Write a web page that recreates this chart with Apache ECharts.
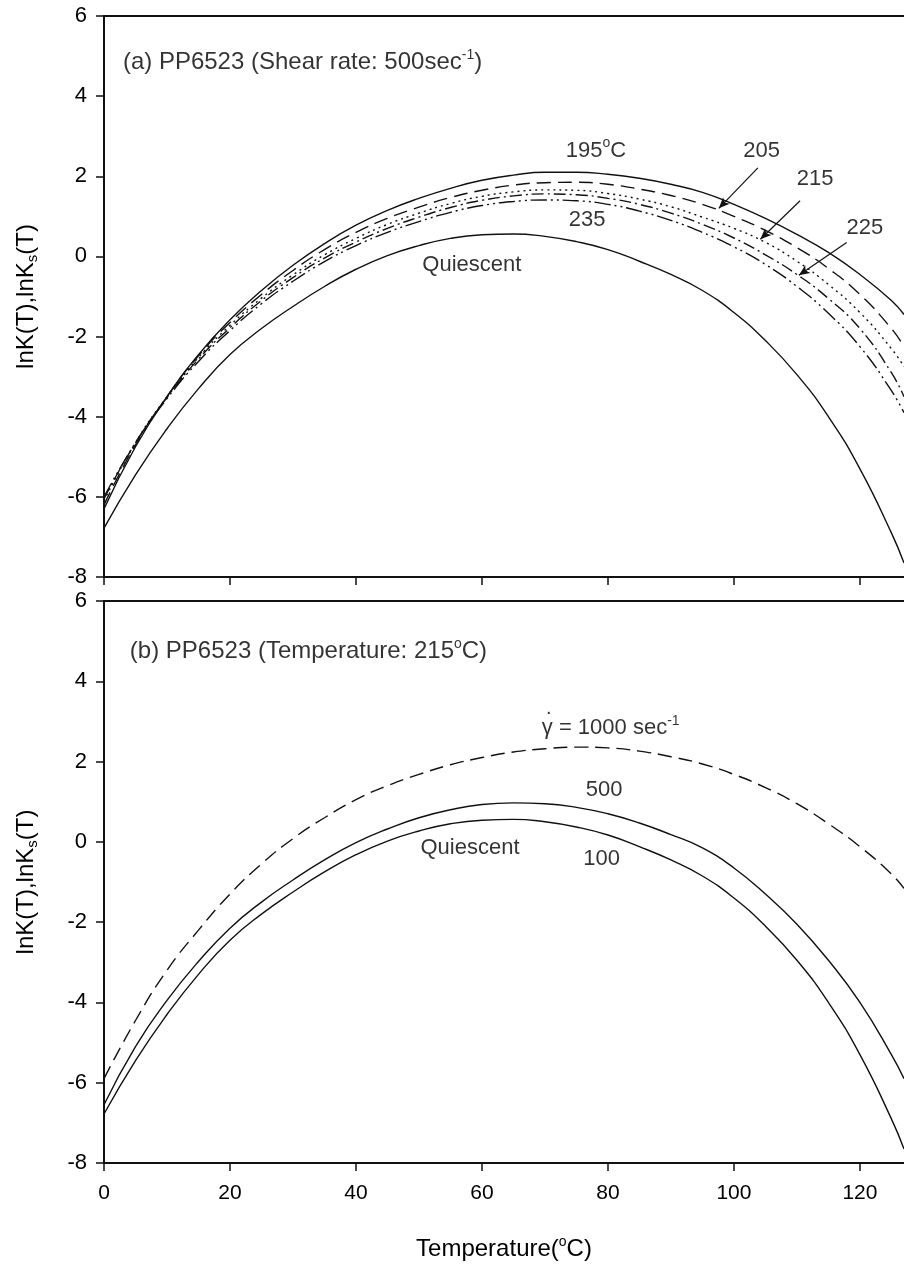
<!DOCTYPE html>
<html><head><meta charset="utf-8">
<script src="https://cdn.jsdelivr.net/npm/echarts@6/dist/echarts.min.js"></script>
<style>html,body{margin:0;padding:0;background:#fff}#c{width:904px;height:1264px}</style>
</head><body><div id="c"></div>
<script>
// Temperature (°C) sample points
const temps = [0,5,10,15,20,25,30,35,40,45,50,55,60,65,70,75,80,85,90,95,100,105,110,115,120,125,127];
// Panel (a): shear rate 500 s^-1, melt temperatures
const quiescent = [-6.78,-5.45,-4.3,-3.3,-2.45,-1.8,-1.25,-0.75,-0.32,0.02,0.27,0.45,0.54,0.56,0.5,0.37,0.17,-0.12,-0.45,-0.85,-1.4,-2.1,-2.95,-4.0,-5.3,-6.9,-7.65];
const melt195 = [-6.3,-4.75,-3.5,-2.45,-1.58,-0.85,-0.22,0.32,0.78,1.15,1.45,1.7,1.9,2.03,2.1,2.1,2.05,1.95,1.8,1.6,1.3,0.95,0.55,0.1,-0.45,-1.1,-1.45];
const melt205 = [-6.2,-4.7,-3.5,-2.48,-1.65,-0.95,-0.35,0.17,0.6,0.95,1.23,1.47,1.65,1.78,1.84,1.85,1.8,1.68,1.52,1.3,1.0,0.65,0.22,-0.3,-0.95,-1.8,-2.25];
const melt215 = [-6.1,-4.65,-3.5,-2.52,-1.72,-1.04,-0.46,0.04,0.45,0.8,1.08,1.32,1.5,1.61,1.66,1.65,1.57,1.43,1.24,0.98,0.7,0.35,-0.12,-0.7,-1.4,-2.3,-2.75];
const melt225 = [-6.05,-4.65,-3.52,-2.56,-1.78,-1.1,-0.53,-0.04,0.36,0.7,0.98,1.22,1.4,1.51,1.56,1.54,1.45,1.3,1.08,0.8,0.46,0.04,-0.45,-1.05,-1.8,-2.9,-3.5];
const melt235 = [-6.0,-4.65,-3.55,-2.62,-1.85,-1.18,-0.62,-0.13,0.27,0.6,0.87,1.1,1.27,1.37,1.41,1.39,1.3,1.13,0.9,0.6,0.24,-0.2,-0.75,-1.42,-2.25,-3.35,-3.9];
// Panel (b): 215 °C, shear rates
const shear500 = [-6.55,-5.1,-3.95,-2.98,-2.15,-1.5,-0.95,-0.45,-0.02,0.32,0.6,0.8,0.93,0.97,0.95,0.86,0.7,0.47,0.18,-0.15,-0.65,-1.3,-2.05,-2.95,-4.0,-5.3,-5.9];
const shear1000 = [-5.9,-4.45,-3.2,-2.2,-1.3,-0.55,0.08,0.6,1.05,1.4,1.68,1.92,2.1,2.24,2.32,2.36,2.34,2.26,2.12,1.94,1.68,1.35,0.95,0.45,-0.12,-0.8,-1.16];
// Axis ticks
const xTicks = [0,20,40,60,80,100,120];
const yTicks = [-8,-6,-4,-2,0,2,4,6];

const INK = '#111';
const TXT = '#000';
const FONT = 'Liberation Sans, Arial, sans-serif';
const pairs = arr => temps.map((t,i)=>[t,arr[i]]);
const rich = {
  sup:{fontSize:14,fontFamily:FONT,color:TXT,verticalAlign:'top',lineHeight:12},
  sub:{fontSize:15,fontFamily:FONT,color:TXT,verticalAlign:'bottom',lineHeight:12}
};

function xBottom(gridIndex, withLabels){
  return {type:'value',gridIndex,min:0,max:127,interval:20,position:'bottom',
    axisLine:{show:true,onZero:false,lineStyle:{color:INK,width:2}},
    axisTick:{show:true,inside:false,length:8,lineStyle:{color:INK,width:1.5},
      customValues: xTicks},
    axisLabel:{show:withLabels,customValues:xTicks,margin:20,fontSize:21,fontFamily:FONT,color:TXT},
    splitLine:{show:false},
    name: withLabels ? 'Temperature({sup|o}C)' : '',
    nameLocation:'middle',nameGap:72,
    nameTextStyle:{fontSize:24,fontFamily:FONT,color:TXT,lineHeight:28,rich}};
}
function xTop(gridIndex){
  return {type:'value',gridIndex,min:0,max:127,position:'top',
    axisLine:{show:true,onZero:false,lineStyle:{color:INK,width:2}},
    axisTick:{show:false},axisLabel:{show:false},splitLine:{show:false}};
}
function yLeft(gridIndex){
  return {type:'value',gridIndex,min:-8,max:6,interval:2,
    axisLine:{show:true,onZero:false,lineStyle:{color:INK,width:2}},
    axisTick:{show:true,inside:false,length:8,lineStyle:{color:INK,width:1.5},customValues:yTicks},
    axisLabel:{margin:17,fontSize:22,fontFamily:FONT,color:TXT,customValues:yTicks},
    splitLine:{show:false},
    name:'lnK(T),lnK{sub|s}(T)',nameLocation:'middle',nameRotate:90,nameGap:64,
    nameTextStyle:{fontSize:24,fontFamily:FONT,color:TXT,lineHeight:28,rich}};
}
function curve(name, data, xi, yi, type, extra){
  return Object.assign({name,type:'line',xAxisIndex:xi,yAxisIndex:yi,data:pairs(data),
    smooth:true,showSymbol:false,symbol:'none',
    lineStyle:{color:INK,width:1.4,type:type}}, extra||{});
}
function arrow(from, to){
  return {silent:true,symbol:['none','arrow'],symbolSize:[7,11],
    lineStyle:{color:INK,width:1.2,type:'solid'},label:{show:false},
    data:[[{coord:from},{coord:to}]]};
}
function notes(xi, yi, items){
  return {type:'scatter',xAxisIndex:xi,yAxisIndex:yi,symbolSize:1,
    itemStyle:{color:'rgba(0,0,0,0)'},silent:true,z:10,
    data:items.map(it=>({value:it.at,label:{show:true,position:'inside',
      align:it.align||'center',verticalAlign:'middle',formatter:it.text,
      fontSize:it.size||22,fontFamily:FONT,color:TXT,lineHeight:28,rich}}))};
}

const chart = echarts.init(document.getElementById('c'), null, {renderer:'canvas'});
chart.setOption({
  animation:false,
  backgroundColor:'#fff',
  grid:[
    {left:104,right:0,top:16,height:561},
    {left:104,right:0,top:601,height:566}
  ],
  xAxis:[xBottom(0,false), xTop(0), xBottom(1,true), xTop(1)],
  yAxis:[yLeft(0), yLeft(1)],
  series:[
    curve('Quiescent', quiescent, 0, 0, 'solid'),
    curve('195', melt195, 0, 0, 'solid'),
    curve('205', melt205, 0, 0, [14,7], {markLine:arrow([103.8,2.21],[97.6,1.2])}),
    curve('215', melt215, 0, 0, [2,4], {markLine:arrow([110.5,1.39],[104.2,0.43])}),
    curve('225', melt225, 0, 0, [12,4,2,4], {markLine:arrow([117.9,0.35],[110.3,-0.47])}),
    curve('235', melt235, 0, 0, [16,4,2,4,2,4]),
    notes(0,0,[
      {at:[3.0,4.85],text:'(a) PP6523 (Shear rate: 500sec{sup|-1})',align:'left',size:24},
      {at:[78.1,2.64],text:'195{sup|o}C'},
      {at:[104.4,2.64],text:'205'},
      {at:[112.9,1.94],text:'215'},
      {at:[120.8,0.72],text:'225'},
      {at:[76.7,0.92],text:'235'},
      {at:[58.4,-0.2],text:'Quiescent'}
    ]),
    curve('Quiescent b', quiescent, 2, 1, 'solid'),
    curve('500', shear500, 2, 1, 'solid'),
    curve('1000', shear1000, 2, 1, [14,7]),
    notes(2,1,[
      {at:[4.1,4.75],text:'(b) PP6523 (Temperature: 215{sup|o}C)',align:'left',size:24},
      {at:[69.5,2.83],text:'γ = 1000 sec{sup|-1}',align:'left'},
      {at:[70.6,3.32],text:'.',size:20},
      {at:[79.4,1.30],text:'500'},
      {at:[58.1,-0.16],text:'Quiescent'},
      {at:[79.0,-0.43],text:'100'}
    ])
  ]
});
</script></body></html>
